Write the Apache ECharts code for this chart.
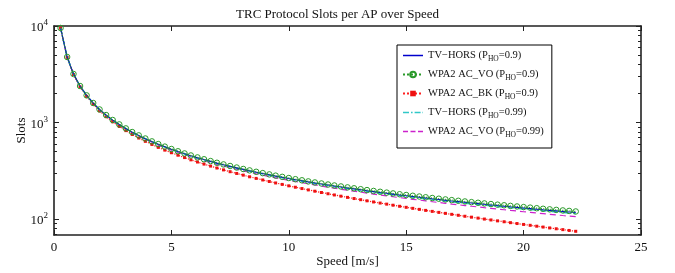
<!DOCTYPE html>
<html>
<head>
<meta charset="utf-8">
<script src="https://cdn.jsdelivr.net/npm/echarts@6/dist/echarts.min.js"></script>
<style>html,body{margin:0;padding:0;background:#fff}#c{width:675px;height:273px}</style>
</head>
<body>
<div id="c"></div>
<script>
// Speed [m/s]
const speed = [0.28,0.56,0.83,1.11,1.39,1.67,1.94,2.22,2.5,2.78,3.06,3.33,3.61,3.89,4.17,4.44,4.72,5,5.28,5.56,5.83,6.11,6.39,6.67,6.94,7.22,7.5,7.78,8.06,8.33,8.61,8.89,9.17,9.44,9.72,10,10.28,10.56,10.83,11.11,11.39,11.67,11.94,12.22,12.5,12.78,13.06,13.33,13.61,13.89,14.17,14.44,14.72,15,15.28,15.56,15.83,16.11,16.39,16.67,16.94,17.22,17.5,17.78,18.06,18.33,18.61,18.89,19.17,19.44,19.72,20,20.28,20.56,20.83,21.11,21.39,21.67,21.94,22.22];
const tvHors09 = [9537,4767,3177,2382,1905,1587,1359.9,1189.5,1057,951,864.3,792,730.8,678.4,633,593.3,558.2,527,499.1,474,451.3,430.6,411.8,394.5,378.6,363.9,350.3,337.7,326,315,304.7,295.1,286.1,277.6,269.6,262,254.8,248.1,241.6,235.5,229.7,224.1,218.9,213.8,209,204.4,200,195.8,191.7,187.8,184.1,180.5,177,173.7,170.5,167.4,164.4,161.5,158.7,156,153.4,150.9,148.4,146.1,143.8,141.5,139.4,137.3,135.3,133.3,131.4,129.5,127.7,125.9,124.2,122.5,120.9,119.3,117.8,116.3];
const acVo09 = [9540,4770,3180,2385,1908,1590,1362.9,1192.5,1060,954,867.3,795,733.8,681.4,636,596.3,561.2,530,502.1,477,454.3,433.6,414.8,397.5,381.6,366.9,353.3,340.7,329,318,307.7,298.1,289.1,280.6,272.6,265,257.8,251.1,244.6,238.5,232.7,227.1,221.9,216.8,212,207.4,203,198.8,194.7,190.8,187.1,183.5,180,176.7,173.5,170.4,167.4,164.5,161.7,159,156.4,153.9,151.4,149.1,146.8,144.5,142.4,140.3,138.3,136.3,134.4,132.5,130.7,128.9,127.2,125.5,123.9,122.3,120.8,119.3];
const acBk09 = [9495,4725,3135,2340,1863,1545,1317.9,1147.5,1015,909,822.3,750,688.8,636.4,591,551.3,516.2,485,457.1,432,409.3,388.6,369.8,352.5,336.6,321.9,308.3,295.7,284,273,262.7,253.1,244.1,235.6,227.6,220,212.8,206.1,199.6,193.5,187.7,182.1,176.9,171.8,167,162.4,158,153.8,149.7,145.8,142.1,138.5,135,131.7,128.5,125.4,122.4,119.5,116.7,114,111.4,108.9,106.4,104.1,101.8,99.5,97.4,95.3,93.3,91.3,89.4,87.5,85.7,83.9,82.2,80.5,78.9,77.3,75.8,74.3];
const tvHors099 = [9534,4764,3174,2379,1902,1584,1356.9,1186.5,1054,948,861.3,789,727.8,675.4,630,590.3,555.2,524,496.1,471,448.3,427.6,408.8,391.5,375.6,360.9,347.3,334.7,323,312,301.7,292.1,283.1,274.6,266.6,259,251.8,245.1,238.6,232.5,226.7,221.1,215.9,210.8,206,201.4,197,192.8,188.7,184.8,181.1,177.5,174,170.7,167.5,164.4,161.4,158.5,155.7,153,150.4,147.9,145.4,143.1,140.8,138.5,136.4,134.3,132.3,130.3,128.4,126.5,124.7,122.9,121.2,119.5,117.9,116.3,114.8,113.3];
const acVo099 = [9526,4756,3166,2371,1894,1576,1348.9,1178.5,1046,940,853.3,781,719.8,667.4,622,582.3,547.2,516,488.1,463,440.3,419.6,400.8,383.5,367.6,352.9,339.3,326.7,315,304,293.7,284.1,275.1,266.6,258.6,251,243.8,237.1,230.6,224.5,218.7,213.1,207.9,202.8,198,193.4,189,184.8,180.7,176.8,173.1,169.5,166,162.7,159.5,156.4,153.4,150.5,147.7,145,142.4,139.9,137.4,135.1,132.8,130.5,128.4,126.3,124.3,122.3,120.4,118.5,116.7,114.9,113.2,111.5,109.9,108.3,106.8,105.3];
const yMajorTicks = [100, 1000, 10000];
const yMinorTicks = [70,80,90,200,300,400,500,600,700,800,900,2000,3000,4000,5000,6000,7000,8000,9000];
const xTicks = [0, 5, 10, 15, 20, 25];
const seriesNames = ['TV\u2212HORS (P_HO=0.9)','WPA2 AC_VO (P_HO=0.9)','WPA2 AC_BK (P_HO=0.9)','TV\u2212HORS (P_HO=0.99)','WPA2 AC_VO (P_HO=0.99)'];

const FONT = 'Liberation Serif';
const AX = '#222';
const pairs = ys => speed.map((x, i) => [x, ys[i]]);

function yAxis(pos, ticks, len, line, labels) {
  return {
    type: 'log', logBase: 10, min: 68, max: 10000, position: pos,
    axisLine: { show: line, lineStyle: { color: AX, width: 1.6 } },
    axisTick: { show: true, inside: true, length: len, customValues: ticks, lineStyle: { color: AX, width: 1 } },
    axisLabel: labels ? {
      show: true, customValues: yMajorTicks, margin: 6,
      formatter: v => '{b|10}{e|' + Math.round(Math.log10(v)) + '}',
      rich: { b: { fontFamily: FONT, fontSize: 13, color: '#111', lineHeight: 14, padding: [4, 0, 0, 0] },
              e: { fontFamily: FONT, fontSize: 9, color: '#111', lineHeight: 10, padding: [0, 0, 6, 0] } }
    } : { show: false },
    splitLine: { show: false }, minorTick: { show: false }
  };
}
function xAxis(pos, labels) {
  return {
    type: 'value', min: 0, max: 25, interval: 5, position: pos,
    axisLine: { show: true, onZero: false, lineStyle: { color: AX, width: 1.6 } },
    axisTick: { show: true, inside: true, length: 5, customValues: xTicks, lineStyle: { color: AX } },
    axisLabel: { show: labels, fontFamily: FONT, fontSize: 13, color: '#111', margin: 6 },
    splitLine: { show: false },
    name: labels ? 'Speed [m/s]' : '', nameLocation: 'middle', nameGap: 20, nameMoveOverlap: false,
    nameTextStyle: { fontFamily: FONT, fontSize: 13, color: '#111' }
  };
}
const subFmt = name => {
  const m = name.split('_HO');
  return '{a|' + m[0] + '}{s|HO}{a|' + m[1] + '}';
};
// legend icons for line-only series (solid, dash-dot, dashed)
const iconSolid = 'path://M0,0H20V1.5H0Z';
const iconDashDot = 'path://M0,0h6v1.6h-6z M8,0h1.6v1.6h-1.6z M11.6,0h6v1.6h-6z M19.5,0h0.5v1.6h-0.5z';
const iconDashed = 'path://M0,0h5v1.6h-5z M7.5,0h5v1.6h-5z M15,0h5v1.6h-5z';

const GREEN = '#2a9a2a', BLUE = '#0000cc', RED = '#ff2020', CYAN = '#30c8c8', MAG = '#cc22cc';

const chart = echarts.init(document.getElementById('c'), null, { renderer: 'canvas' });
chart.setOption({
  animation: false,
  backgroundColor: '#fff',
  title: { text: 'TRC Protocol Slots per AP over Speed', left: 'center', top: 3,
    textStyle: { fontFamily: FONT, fontSize: 13, fontWeight: 'normal', color: '#111' } },
  grid: { left: 54, right: 34, top: 26, bottom: 34 },
  xAxis: [xAxis('bottom', true), xAxis('top', false)],
  yAxis: [
    Object.assign(yAxis('left', yMajorTicks, 5, true, true), { name: 'Slots', nameLocation: 'middle', nameGap: 26, nameRotate: 90,
      nameMoveOverlap: false, nameTextStyle: { fontFamily: FONT, fontSize: 13, color: '#111' } }),
    yAxis('left', yMinorTicks, 3, false, false),
    yAxis('right', yMajorTicks, 5, true, false),
    yAxis('right', yMinorTicks, 3, false, false)
  ],
  legend: {
    left: 397, top: 45, orient: 'vertical', itemWidth: 20, itemHeight: 7, itemGap: 6,
    padding: [5, 8, 9, 5], borderColor: '#000', borderWidth: 1, backgroundColor: '#fff',
    formatter: subFmt,
    textStyle: { fontFamily: FONT, fontSize: 10.5, color: '#111',
      rich: { a: { fontFamily: FONT, fontSize: 10.5, color: '#111' }, s: { fontFamily: FONT, fontSize: 7.5, color: '#111', padding: [7, 0, 0, 0] } } },
    data: [
      { name: seriesNames[0], icon: iconSolid },
      { name: seriesNames[1] },
      { name: seriesNames[2] },
      { name: seriesNames[3], icon: iconDashDot },
      { name: seriesNames[4], icon: iconDashed }
    ]
  },
  series: [
    { name: seriesNames[4], type: 'line', data: pairs(acVo099), symbol: 'none', z: 2,
      lineStyle: { color: MAG, width: 1.2, type: [6, 4] }, itemStyle: { color: MAG } },
    { name: seriesNames[2], type: 'line', data: pairs(acBk09), symbol: 'rect', symbolSize: 3, z: 2,
      lineStyle: { color: RED, width: 1.2, type: 'dotted' }, itemStyle: { color: '#ee1111' } },
    { name: seriesNames[3], type: 'line', data: pairs(tvHors099), symbol: 'none', z: 3,
      lineStyle: { color: CYAN, width: 1.5, type: [6, 2, 1, 2] }, itemStyle: { color: CYAN } },
    { name: seriesNames[0], type: 'line', data: pairs(tvHors09), symbol: 'none', z: 4,
      lineStyle: { color: BLUE, width: 1.1, type: 'solid' }, itemStyle: { color: BLUE } },
    { name: seriesNames[1], type: 'line', data: pairs(acVo09), symbol: 'circle', symbolSize: 5.5, z: 5,
      lineStyle: { color: GREEN, width: 1.2, type: 'dotted' },
      itemStyle: { color: 'rgba(255,255,255,0)', borderColor: GREEN, borderWidth: 1 } }
  ]
});
</script>
</body>
</html>
